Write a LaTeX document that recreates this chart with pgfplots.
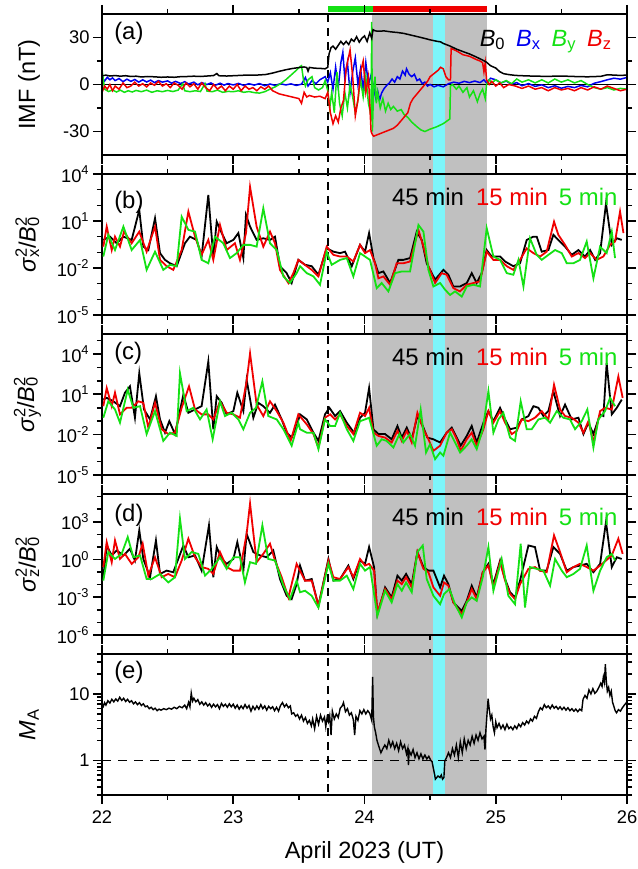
\documentclass[border=0pt]{standalone}
\usepackage{fontspec}
\setmainfont{Liberation Sans}
\usepackage{pgfplots}
\pgfplotsset{compat=1.18}
\definecolor{cgreen}{RGB}{20,225,20}
\definecolor{cred}{RGB}{240,0,0}
\definecolor{cblue}{RGB}{0,0,240}
\definecolor{shade}{RGB}{192,192,192}
\definecolor{cyanshade}{RGB}{125,245,250}
\newcommand\supsub[2]{\rlap{\textsuperscript{#1}}\textsubscript{#2}}
\newcommand\lab{\fontsize{12}{14}\selectfont}
\pgfplotsset{
  panel/.style={
    scale only axis, width=262.5bp, height=70.5bp,
    anchor=south west,
    xmin=22, xmax=26,
    xtick={22,23,24,25,26}, minor xtick={22.5,23.5,24.5,25.5},
    xticklabels={},
    tick align=outside,
    major tick length=4.5bp, minor tick length=2.5bp,
    every tick/.style={black, line width=0.8bp},
    axis line style={line width=1bp},
    tick label style={font=\fontsize{9.2}{10}\selectfont},
    /pgf/number format/assume math mode=true,
    every axis y label/.style={at={(axis description cs:-0.142,0.5)}, rotate=90, anchor=center, font=\fontsize{11.8}{13}\selectfont},
    every axis x label/.style={at={(axis description cs:0.5,-0.41)}, anchor=center, font=\fontsize{11.8}{13}\selectfont},
    yticklabel style={inner sep=1.5bp},
  },
}
\begin{document}
\begin{tikzpicture}
\path[use as bounding box] (0,0) rectangle (319bp,434.5bp);

% ---------------- (a) ----------------
\begin{axis}[panel, at={(51bp,357bp)}, ymin=-45, ymax=45, ytick={-30,0,30}, minor ytick={-15,15},
  ylabel={IMF (nT)}, every axis y label/.append style={at={(axis description cs:-0.139,0.5)}}, clip=false, axis on top]
\addplot[draw=none, fill=shade, forget plot] coordinates {(24.06,45) (24.93,45) (24.93,-453.5) (24.06,-453.5)} -- cycle;
\addplot[draw=none, fill=cyanshade, forget plot] coordinates {(24.52,45) (24.61,45) (24.61,-453.5) (24.52,-453.5)} -- cycle;
\addplot[black, line width=0.8bp, dash pattern=on 4bp off 3bp] coordinates {(23.72,45) (23.72,-453.5)};
\addplot[black, line width=0.6bp] coordinates {(22,0) (26,0)};
\addplot[cgreen, line width=3bp] coordinates {(23.72,47.9) (24.065,47.9)};
\addplot[cred, line width=3bp] coordinates {(24.065,47.9) (24.93,47.9)};
% Bx
\addplot[cblue, line width=0.75bp] coordinates {(22.00,4.5)(22.02,2.2)(22.04,4.6)(22.06,3.0)(22.08,4.2)(22.10,2.5)(22.13,3.8)(22.16,1.8)(22.19,3.4)(22.22,2.0)(22.25,3.2)(22.28,1.5)(22.31,3.0)(22.34,1.6)(22.37,2.8)(22.40,1.2)(22.43,2.5)(22.46,1.5)(22.50,2.3)(22.53,0.8)(22.56,2.0)(22.60,0.6)(22.63,1.8)(22.66,0.3)(22.70,1.5)(22.73,-0.2)(22.76,1.2)(22.80,0)(22.83,1.0)(22.86,-0.6)(22.90,0.8)(22.93,-0.4)(22.96,0.6)(23.00,-0.3)(23.04,0.7)(23.08,-0.6)(23.12,0.5)(23.16,-0.4)(23.20,0.6)(23.24,-0.8)(23.28,0.3)(23.32,-0.6)(23.36,0.5)(23.40,-0.3)(23.44,0.4)(23.48,-0.6)(23.52,0.2)(23.55,4.5)(23.57,-1.0)(23.60,2.5)(23.63,0.5)(23.66,3.0)(23.70,5.0)(23.72,1.5)(23.74,7.5)(23.76,-3.0)(23.78,11.0)(23.80,-2.0)(23.82,14.0)(23.835,20.5)(23.85,4.0)(23.87,14.0)(23.89,-5.0)(23.91,8.0)(23.93,17.0)(23.95,0)(23.97,10.0)(23.99,-3.0)(24.01,14.0)(24.03,0)(24.05,6.0)(24.07,-2.0)(24.085,-8.5)(24.10,-4.0)(24.115,-10.0)(24.13,-5.5)(24.15,-2.5)(24.17,-0.5)(24.19,1.0)(24.21,3.5)(24.23,1.5)(24.25,5.0)(24.27,3.5)(24.29,8.5)(24.31,6.0)(24.32,10.0)(24.34,6.5)(24.36,5.0)(24.38,6.5)(24.40,2.5)(24.42,3.5)(24.44,0.5)(24.46,1.5)(24.48,-1.0)(24.50,0)(24.53,-1.5)(24.56,-0.5)(24.60,-1.5)(24.64,0.5)(24.68,1.5)(24.72,0.8)(24.76,2.0)(24.80,1.2)(24.84,2.2)(24.88,1.2)(24.91,3.0)(24.93,1.0)(24.96,4.0)(25.00,3.0)(25.04,1.0)(25.08,2.2)(25.12,0.2)(25.16,1.2)(25.20,-0.8)(25.25,0.6)(25.30,-1.2)(25.35,-0.2)(25.40,-2.0)(25.45,-0.8)(25.50,-2.4)(25.55,-1.2)(25.60,-2.0)(25.65,-0.6)(25.70,-1.5)(25.75,0.8)(25.80,1.8)(25.85,3.0)(25.90,4.0)(25.95,3.4)(26.00,4.5)};
% By
\addplot[cgreen, line width=0.75bp] coordinates {(22.00,-2.0)(22.008,4.5)(22.02,-3.0)(22.05,-4.5)(22.08,-3.5)(22.11,-4.8)(22.14,-3.6)(22.17,-5.0)(22.20,-4.0)(22.23,-4.8)(22.26,-3.8)(22.30,-4.6)(22.34,-3.6)(22.38,-5.0)(22.42,-4.0)(22.46,-4.6)(22.50,-3.8)(22.54,-4.5)(22.58,-3.6)(22.615,0.5)(22.63,-4.0)(22.67,-4.6)(22.71,-4.0)(22.75,-4.5)(22.785,0.5)(22.80,-4.2)(22.84,-4.6)(22.88,-3.6)(22.92,-5.0)(22.96,-4.4)(23.00,-4.6)(23.04,-4.0)(23.08,-5.0)(23.12,-4.5)(23.16,-5.2)(23.20,-5.5)(23.24,-4.6)(23.28,-3.0)(23.32,-1.5)(23.36,0.5)(23.40,3.0)(23.44,6.0)(23.48,9.0)(23.51,11.5)(23.52,12.0)(23.535,3.0)(23.55,-1.0)(23.57,3.0)(23.60,5.0)(23.62,-2.0)(23.65,-3.5)(23.68,-2.0)(23.70,2.5)(23.72,-4.0)(23.735,-15.0)(23.75,-5.0)(23.77,-18.0)(23.79,8.0)(23.81,-12.0)(23.83,-20.0)(23.85,-5.0)(23.87,-15.0)(23.89,0)(23.91,-8.0)(23.93,-18.0)(23.95,-10.0)(23.97,3.0)(23.99,-8.0)(24.01,5.0)(24.03,-12.0)(24.05,-20.0)(24.055,40.0)(24.06,-30.0)(24.07,-2.0)(24.08,5.0)(24.09,-12.0)(24.10,-5.0)(24.12,-15.0)(24.14,-9.0)(24.16,-17.0)(24.18,-12.0)(24.20,-16.0)(24.22,-14.0)(24.25,-17.0)(24.28,-16.0)(24.30,-19.0)(24.33,-21.0)(24.36,-24.0)(24.40,-27.0)(24.43,-29.0)(24.46,-30.0)(24.50,-28.5)(24.55,-27.0)(24.60,-25.0)(24.65,-22.0)(24.655,-1.0)(24.67,0)(24.70,-3.0)(24.72,-1.0)(24.75,-5.0)(24.78,-2.0)(24.80,-8.0)(24.83,-4.0)(24.86,-11.0)(24.88,-6.0)(24.90,-3.0)(24.92,-9.0)(24.93,0)(24.95,3.0)(24.97,1.0)(25.00,3.0)(25.04,1.0)(25.08,2.5)(25.12,0.5)(25.16,3.5)(25.20,1.5)(25.25,3.0)(25.30,1.0)(25.35,3.0)(25.40,1.0)(25.45,3.5)(25.50,1.5)(25.55,3.0)(25.60,1.0)(25.65,2.5)(25.70,0)(25.75,-2.0)(25.80,-3.0)(25.85,-2.0)(25.90,-3.5)(25.95,-2.5)(26.00,-3.0)};
% Bz
\addplot[cred, line width=0.75bp] coordinates {(22.00,-5)(22.02,-1)(22.04,-3)(22.06,0)(22.08,-4)(22.10,-1)(22.13,-3)(22.16,1)(22.19,-2)(22.22,-1)(22.25,1.5)(22.28,-1)(22.31,0.5)(22.34,-1.5)(22.37,1)(22.40,-0.5)(22.43,2)(22.46,-1)(22.49,0.5)(22.52,-2)(22.55,1)(22.58,-0.5)(22.61,-3)(22.64,1)(22.67,-1.5)(22.70,0.5)(22.73,-3)(22.76,1)(22.79,-2)(22.82,-4)(22.85,0)(22.88,-3)(22.91,-1)(22.94,-4)(22.97,-1)(23.00,-3)(23.03,0)(23.06,-4)(23.09,-1)(23.12,-3)(23.15,-2)(23.18,-4)(23.21,-1.5)(23.24,-3)(23.27,-1)(23.30,-4)(23.35,-6)(23.40,-7)(23.45,-8)(23.50,-9)(23.52,-12)(23.54,-5)(23.56,-8)(23.58,-7)(23.62,-8)(23.66,-7.5)(23.70,-9)(23.72,-5)(23.74,-18)(23.76,-25)(23.78,-20)(23.80,-24)(23.82,-15)(23.84,-10)(23.86,10)(23.88,18)(23.89,22)(23.91,5)(23.93,-20)(23.95,-10)(23.97,8)(23.99,15)(24.01,-5)(24.03,5)(24.05,-30)(24.06,-32)(24.07,-33)(24.10,-32)(24.13,-31)(24.16,-30)(24.19,-29)(24.22,-28)(24.25,-26)(24.27,-24)(24.29,-22)(24.31,-20)(24.33,-18)(24.35,-12)(24.37,-9)(24.40,-6)(24.43,-3)(24.46,0)(24.48,2)(24.50,5)(24.53,7)(24.56,9)(24.58,11)(24.60,10)(24.62,5)(24.64,3)(24.655,3)(24.66,23)(24.70,21.5)(24.75,19)(24.80,18)(24.85,16)(24.88,15)(24.90,14)(24.91,8)(24.92,14)(24.93,3)(24.95,0)(24.97,2)(25.00,-1)(25.03,1)(25.06,-2)(25.10,0)(25.15,-1)(25.20,-2.5)(25.25,-1)(25.30,-3)(25.35,-2)(25.40,-4)(25.45,-2)(25.50,-3.5)(25.55,-2.5)(25.60,-4)(25.65,-2)(25.70,-3.5)(25.75,-1.5)(25.80,-3)(25.85,-1)(25.90,-2.5)(25.95,-4)(26.00,-3)};
% B0
\addplot[black, line width=0.75bp] coordinates {(22.00,5.5)(22.03,6.0)(22.06,5.4)(22.10,5.7)(22.14,5.3)(22.18,5.6)(22.22,5.1)(22.26,5.3)(22.30,4.8)(22.35,5.1)(22.40,4.9)(22.45,4.6)(22.50,4.8)(22.55,4.6)(22.60,5.0)(22.65,5.1)(22.70,5.3)(22.75,5.1)(22.80,5.4)(22.85,5.7)(22.875,7.0)(22.89,5.6)(22.95,5.4)(23.00,5.6)(23.05,5.8)(23.10,6.0)(23.15,5.9)(23.20,6.1)(23.25,6.4)(23.30,7.3)(23.35,8.4)(23.40,9.4)(23.45,10.2)(23.50,10.8)(23.54,11.2)(23.56,10.8)(23.57,8.5)(23.58,10.9)(23.62,10.4)(23.66,10.3)(23.70,10.0)(23.72,11.0)(23.73,19.5)(23.745,23.5)(23.76,24.5)(23.78,22.5)(23.80,25.0)(23.82,27.5)(23.84,25.5)(23.86,27.5)(23.88,25.5)(23.90,29.0)(23.92,27.5)(23.94,30.5)(23.96,27.0)(23.98,29.5)(24.00,31.0)(24.02,27.5)(24.04,33.0)(24.055,29.5)(24.065,35.0)(24.08,34.3)(24.10,34.0)(24.15,34.2)(24.20,33.6)(24.25,33.2)(24.30,32.6)(24.35,31.6)(24.40,30.6)(24.45,29.6)(24.50,28.5)(24.55,27.6)(24.58,27.2)(24.60,26.2)(24.65,24.6)(24.70,22.6)(24.75,21.0)(24.80,19.5)(24.85,17.6)(24.90,15.6)(24.93,14.2)(24.96,12.0)(25.00,10.5)(25.03,8.2)(25.06,6.9)(25.10,6.3)(25.15,5.8)(25.20,5.6)(25.30,5.3)(25.40,5.2)(25.50,5.4)(25.60,5.1)(25.70,4.9)(25.80,5.2)(25.85,6.2)(25.90,6.0)(25.95,5.8)(26.00,6.0)};
\node[anchor=west, font=\lab] at (rel axis cs:0.010,0.86) {(a)};
\node[anchor=east, font=\fontsize{11.8}{13}\selectfont] at (axis cs:25.94,27.4) {\textit{B}\textsubscript{0}\hspace{0.45em}\textcolor{cblue}{\textit{B}\textsubscript{x}}\hspace{0.45em}\textcolor{cgreen}{\textit{B}\textsubscript{y}}\hspace{0.45em}\textcolor{cred}{\textit{B}\textsubscript{z}}};
\end{axis}

% ---------------- (b) ----------------
\begin{axis}[panel, at={(51bp,277bp)}, ymode=log, ymin=1e-5, ymax=1e4,
  ytick={1e-5,1e-2,1e1,1e4}, yticklabels={10\textsuperscript{-5},10\textsuperscript{-2},10\textsuperscript{1},10\textsuperscript{4}},
  minor ytick={1e-4,1e-3,1e-1,1,1e2,1e3},
  ylabel={\textit{σ}\supsub{2}{x}/\textit{B}\supsub{2}{0}}]
\addplot[black, line width=0.9bp] coordinates {(22.010,0.62)(22.061,1.0)(22.112,0.38)(22.163,1.0)(22.226,0.62)(22.284,50)(22.315,0.23)(22.353,0.14)(22.404,15)(22.442,0.089)(22.480,0.033)(22.518,0.020)(22.569,0.013)(22.632,0.38)(22.670,1.0)(22.721,0.62)(22.759,0.054)(22.810,460)(22.848,0.054)(22.874,9.1)(22.912,1.7)(22.950,0.38)(23.001,0.62)(23.039,1.7)(23.077,0.043)(23.097,25)(23.128,4.4)(23.178,0.62)(23.229,0.79)(23.280,0.62)(23.318,1.0)(23.356,0.013)(23.407,0.0047)(23.445,0.0011)(23.496,0.033)(23.547,0.016)(23.598,0.013)(23.649,0.0037)(23.712,0.18)(23.763,0.11)(23.814,0.089)(23.852,0.11)(23.903,0.013)(23.966,0.30)(24.004,0.11)(24.035,1.7)(24.068,0.043)(24.106,0.0047)(24.144,0.006)(24.195,0.0011)(24.258,0.033)(24.296,0.033)(24.347,0.043)(24.398,2.1)(24.436,0.62)(24.474,0.020)(24.538,0.0018)(24.601,0.0076)(24.639,0.0037)(24.677,6.6e-4)(24.728,6.6e-4)(24.779,0.0011)(24.817,0.0047)(24.855,0.0011)(24.893,0.0047)(24.931,0.14)(24.969,0.054)(25.033,0.054)(25.071,0.026)(25.134,0.013)(25.185,0.020)(25.236,0.62)(25.287,1.0)(25.312,1.0)(25.350,0.11)(25.401,0.14)(25.439,1.3)(25.477,0.62)(25.528,0.23)(25.579,0.069)(25.630,0.14)(25.680,0.054)(25.719,0.14)(25.757,0.033)(25.795,0.089)(25.840,130)(25.884,0.30)(25.922,0.79)(25.960,0.62)};
\addplot[cred, line width=0.9bp] coordinates {(22.010,0.23)(22.036,4.4)(22.074,0.14)(22.099,1.0)(22.137,0.23)(22.168,2.1)(22.226,0.38)(22.284,2.1)(22.340,0.11)(22.404,4.4)(22.442,0.033)(22.493,0.013)(22.543,0.0076)(22.607,0.14)(22.658,40)(22.709,1.0)(22.759,0.069)(22.810,0.62)(22.848,0.033)(22.899,5.6)(22.950,0.14)(23.013,0.38)(23.051,0.033)(23.097,1.7)(23.128,1500)(23.178,4.4)(23.229,0.23)(23.280,2.1)(23.318,0.38)(23.356,0.0076)(23.420,0.0011)(23.458,0.0047)(23.496,0.033)(23.560,0.013)(23.598,0.0076)(23.649,0.0029)(23.712,0.23)(23.763,0.069)(23.814,0.054)(23.865,0.054)(23.915,0.026)(23.966,0.30)(24.004,0.089)(24.042,0.14)(24.080,0.020)(24.106,0.0022)(24.144,0.0029)(24.195,8.5e-4)(24.245,0.020)(24.296,0.020)(24.347,0.026)(24.411,2.7)(24.449,0.23)(24.487,0.013)(24.538,0.0011)(24.588,0.0047)(24.626,0.0037)(24.677,5.2e-4)(24.728,3.2e-4)(24.779,8.5e-4)(24.830,0.0011)(24.880,0.0014)(24.931,0.11)(24.982,0.033)(25.033,0.033)(25.084,0.013)(25.134,0.0076)(25.185,0.033)(25.236,0.18)(25.287,0.089)(25.338,0.054)(25.388,0.11)(25.444,9.1)(25.477,1.3)(25.528,0.30)(25.579,0.054)(25.630,0.089)(25.680,0.043)(25.719,0.089)(25.769,0.033)(25.820,0.054)(25.871,0.30)(25.909,0.49)(25.947,40)(25.973,1.7)};
\addplot[cgreen, line width=0.9bp] coordinates {(22.010,0.054)(22.048,1.3)(22.099,0.14)(22.163,4.4)(22.226,0.14)(22.290,0.62)(22.340,0.0076)(22.404,0.11)(22.467,0.0076)(22.518,0.016)(22.569,0.013)(22.607,19)(22.658,2.7)(22.709,2.1)(22.759,0.033)(22.810,0.020)(22.861,1.0)(22.924,0.38)(22.975,0.043)(23.026,0.089)(23.077,0.30)(23.128,0.30)(23.178,0.23)(23.229,65)(23.280,0.38)(23.331,0.14)(23.382,0.0029)(23.432,0.0011)(23.483,0.0047)(23.509,0.013)(23.560,0.0047)(23.611,0.0029)(23.661,8.5e-4)(23.712,0.11)(23.750,0.016)(23.814,0.033)(23.865,0.043)(23.915,0.0029)(23.966,0.089)(24.004,0.054)(24.042,0.033)(24.093,5.2e-4)(24.131,0.0011)(24.182,3.2e-4)(24.233,0.0047)(24.284,0.006)(24.347,0.006)(24.411,5.6)(24.449,2.1)(24.487,0.0076)(24.525,6.6e-4)(24.576,0.0011)(24.614,4.1e-4)(24.652,1.9e-4)(24.690,3.2e-4)(24.741,1.5e-4)(24.779,6.6e-4)(24.830,8.5e-4)(24.880,6.6e-4)(24.931,3.5)(24.982,0.054)(25.033,0.033)(25.084,0.0047)(25.134,0.0037)(25.173,0.033)(25.211,6.6e-4)(25.261,0.79)(25.312,0.069)(25.350,0.033)(25.401,0.069)(25.452,0.14)(25.503,0.089)(25.541,0.020)(25.592,0.020)(25.642,0.033)(25.693,0.49)(25.744,0.0022)(25.795,0.23)(25.845,0.089)(25.884,2.1)(25.909,0.043)};
\node[anchor=west, font=\lab] at (rel axis cs:0.010,0.80) {(b)};
\node[font=\lab] at (rel axis cs:0.621,0.838) {45 min};
\node[font=\lab, text=cred] at (rel axis cs:0.781,0.838) {15 min};
\node[font=\lab, text=cgreen] at (rel axis cs:0.926,0.838) {5 min};
\end{axis}

% ---------------- (c) ----------------
\begin{axis}[panel, at={(51bp,197bp)}, ymode=log, ymin=1e-5, ymax=3e5,
  ytick={1e-5,1e-2,1e1,1e4}, yticklabels={10\textsuperscript{-5},10\textsuperscript{-2},10\textsuperscript{1},10\textsuperscript{4}},
  minor ytick={1e-4,1e-3,1e-1,1,1e2,1e3,1e5},
  ylabel={\textit{σ}\supsub{2}{y}/\textit{B}\supsub{2}{0}}]
\addplot[black, line width=0.9bp] coordinates {(22.010,4.0)(22.036,5.4)(22.086,3.0)(22.137,1.3)(22.175,13)(22.213,39)(22.251,0.18)(22.284,370)(22.320,0.74)(22.366,0.135)(22.411,7.1)(22.442,0.135)(22.480,0.014)(22.513,0.10)(22.556,0.011)(22.620,9.5)(22.658,0.42)(22.709,0.74)(22.759,1.3)(22.810,2700)(22.848,0.025)(22.874,7.1)(22.912,2.3)(22.950,0.32)(23.001,0.56)(23.031,13)(23.077,0.56)(23.102,120)(23.153,0.18)(23.191,2.3)(23.229,1.3)(23.280,0.42)(23.318,1.7)(23.369,0.135)(23.407,0.014)(23.445,0.006)(23.483,0.044)(23.509,0.32)(23.560,0.135)(23.611,0.014)(23.649,0.0034)(23.699,0.32)(23.733,0.98)(23.776,0.24)(23.814,0.56)(23.865,0.077)(23.928,0.011)(23.966,0.18)(24.004,0.42)(24.035,29)(24.068,0.025)(24.106,0.011)(24.157,0.011)(24.207,0.0045)(24.251,0.044)(24.284,0.006)(24.322,0.033)(24.360,0.0045)(24.403,0.24)(24.444,0.044)(24.479,0.006)(24.525,0.0045)(24.576,0.0026)(24.626,0.014)(24.665,0.033)(24.703,0.006)(24.733,0.0015)(24.779,0.008)(24.817,0.044)(24.855,0.0026)(24.906,0.077)(24.944,0.56)(24.982,0.10)(25.033,0.98)(25.071,0.135)(25.109,0.025)(25.160,0.033)(25.198,0.135)(25.249,0.24)(25.287,1.3)(25.325,0.98)(25.363,0.24)(25.401,0.56)(25.439,17)(25.490,0.24)(25.528,1.7)(25.579,0.135)(25.630,0.18)(25.668,0.011)(25.706,0.077)(25.744,0.011)(25.795,0.32)(25.820,0.24)(25.845,2000)(25.884,0.32)(25.922,0.98)(25.960,4.0)};
\addplot[cred, line width=0.9bp] coordinates {(22.010,1.3)(22.036,29)(22.074,1.3)(22.099,13)(22.137,0.32)(22.188,0.98)(22.226,0.98)(22.277,3.0)(22.315,2.3)(22.353,0.033)(22.404,2.3)(22.455,0.025)(22.505,0.011)(22.556,0.014)(22.607,0.98)(22.663,39)(22.709,0.74)(22.759,0.32)(22.810,0.32)(22.848,0.135)(22.899,3.0)(22.950,0.42)(23.001,0.32)(23.051,0.18)(23.102,91)(23.128,11000)(23.178,1.7)(23.229,0.24)(23.280,3.0)(23.331,0.56)(23.382,0.077)(23.437,0.0034)(23.496,0.32)(23.560,0.058)(23.611,0.011)(23.649,0.0011)(23.699,0.18)(23.738,0.32)(23.776,0.135)(23.814,0.32)(23.865,0.044)(23.915,0.011)(23.966,0.42)(24.004,0.24)(24.035,0.98)(24.068,0.014)(24.106,0.008)(24.157,0.006)(24.207,0.0026)(24.251,0.019)(24.284,0.0034)(24.322,0.019)(24.360,0.0026)(24.403,0.42)(24.449,0.025)(24.487,0.0045)(24.525,6.3e-4)(24.576,0.0015)(24.626,0.014)(24.665,0.025)(24.703,0.0045)(24.733,6.3e-4)(24.779,0.0045)(24.817,0.014)(24.855,0.0015)(24.906,0.025)(24.944,0.56)(24.982,0.077)(25.033,0.56)(25.071,0.077)(25.122,0.011)(25.160,0.019)(25.198,0.135)(25.249,0.10)(25.299,0.18)(25.350,0.56)(25.401,0.135)(25.444,51)(25.490,0.74)(25.528,0.24)(25.579,0.18)(25.630,0.077)(25.668,0.014)(25.706,0.10)(25.744,0.0026)(25.795,0.56)(25.833,0.98)(25.884,0.74)(25.934,210)(25.967,5.4)};
\addplot[cgreen, line width=0.9bp] coordinates {(22.010,0.18)(22.048,3.0)(22.099,0.74)(22.137,0.077)(22.196,22)(22.239,0.98)(22.290,1.3)(22.340,0.011)(22.404,0.56)(22.467,0.0034)(22.518,0.014)(22.569,0.008)(22.594,370)(22.645,0.56)(22.696,0.98)(22.747,0.135)(22.797,0.74)(22.843,0.0045)(22.899,3.0)(22.937,0.24)(22.988,0.42)(23.039,0.135)(23.077,0.025)(23.128,0.42)(23.173,0.98)(23.222,91)(23.267,0.24)(23.331,0.135)(23.382,0.025)(23.445,0.0015)(23.496,0.077)(23.509,0.025)(23.560,0.014)(23.611,0.014)(23.649,8.3e-4)(23.699,0.135)(23.738,0.044)(23.776,0.044)(23.814,0.42)(23.865,0.025)(23.915,0.0034)(23.966,0.10)(24.004,0.135)(24.035,0.18)(24.093,0.0015)(24.131,0.0045)(24.169,0.0034)(24.220,0.0011)(24.266,0.011)(24.296,0.0026)(24.347,0.011)(24.385,0.0015)(24.428,0.74)(24.469,4.7e-4)(24.499,0.0019)(24.538,1.5e-4)(24.576,4.7e-4)(24.601,2.7e-4)(24.652,0.014)(24.690,0.0026)(24.728,4.7e-4)(24.779,0.0015)(24.817,0.0045)(24.855,8.3e-4)(24.901,0.025)(24.944,17)(24.982,0.014)(25.020,0.135)(25.058,0.42)(25.109,0.006)(25.147,0.0034)(25.190,3.0)(25.236,0.025)(25.274,0.025)(25.325,0.135)(25.376,0.18)(25.414,0.077)(25.465,0.56)(25.515,0.18)(25.566,0.135)(25.604,0.025)(25.655,0.10)(25.698,0.74)(25.744,0.0011)(25.782,0.135)(25.833,0.56)(25.871,5.4)(25.909,1.3)};
\node[anchor=west, font=\lab] at (rel axis cs:0.010,0.866) {(c)};
\node[font=\lab] at (rel axis cs:0.621,0.838) {45 min};
\node[font=\lab, text=cred] at (rel axis cs:0.781,0.838) {15 min};
\node[font=\lab, text=cgreen] at (rel axis cs:0.926,0.838) {5 min};
\end{axis}

% ---------------- (d) ----------------
\begin{axis}[panel, at={(51bp,117bp)}, ymode=log, ymin=1e-6, ymax=1.6e5,
  ytick={1e-6,1e-3,1,1e3}, yticklabels={10\textsuperscript{-6},10\textsuperscript{-3},10\textsuperscript{0},10\textsuperscript{3}},
  minor ytick={1e-5,1e-4,1e-2,1e-1,1e1,1e2,1e4,1e5},
  ylabel={\textit{σ}\supsub{2}{z}/\textit{B}\supsub{2}{0}}]
\addplot[black, line width=0.9bp] coordinates {(22.010,0.039)(22.036,13)(22.074,2.1)(22.112,5.2)(22.163,2.1)(22.213,7.1)(22.251,0.83)(22.284,210)(22.315,1.1)(22.366,0.039)(22.411,33)(22.442,0.071)(22.493,0.13)(22.543,0.097)(22.620,13)(22.658,1.5)(22.709,2.1)(22.759,0.13)(22.815,520)(22.848,0.039)(22.874,9.7)(22.912,1.1)(22.950,0.45)(23.001,1.1)(23.031,24)(23.077,0.13)(23.102,110)(23.153,3.9)(23.204,2.1)(23.255,1.5)(23.305,5.2)(23.356,0.028)(23.407,0.0013)(23.445,7.1e-4)(23.483,0.011)(23.509,0.33)(23.547,0.021)(23.598,0.028)(23.649,2.1e-4)(23.725,1.1)(23.763,0.021)(23.814,0.028)(23.877,0.33)(23.915,0.028)(23.966,0.83)(24.004,0.45)(24.035,9.7)(24.073,0.25)(24.098,4.5e-5)(24.157,0.0061)(24.207,9.7e-4)(24.251,0.052)(24.284,0.021)(24.317,0.071)(24.360,0.011)(24.403,3.9)(24.449,0.25)(24.487,0.13)(24.525,0.13)(24.576,0.0061)(24.606,0.052)(24.639,0.011)(24.677,3.9e-4)(24.741,8.3e-5)(24.779,5.2e-4)(24.817,0.0083)(24.855,9.7e-4)(24.901,0.097)(24.944,0.45)(24.982,0.011)(25.033,0.83)(25.071,0.028)(25.109,0.0025)(25.147,9.7e-4)(25.185,0.021)(25.249,13)(25.299,9.7)(25.338,0.13)(25.388,0.13)(25.439,9.7)(25.490,2.8)(25.541,0.13)(25.592,0.25)(25.642,0.33)(25.693,0.45)(25.744,0.097)(25.795,0.45)(25.840,970)(25.884,0.25)(25.922,1.5)(25.960,1.1)};
\addplot[cred, line width=0.9bp] coordinates {(22.010,0.25)(22.036,24)(22.074,0.61)(22.099,33)(22.137,1.1)(22.175,2.8)(22.226,0.45)(22.277,1.5)(22.310,18)(22.353,0.052)(22.404,1.5)(22.455,0.039)(22.505,0.071)(22.556,0.039)(22.607,0.83)(22.658,45)(22.709,1.5)(22.759,0.25)(22.810,0.18)(22.848,0.071)(22.899,3.9)(22.950,0.25)(23.001,0.13)(23.051,0.13)(23.102,110)(23.128,28000)(23.178,0.61)(23.229,2.8)(23.280,18)(23.318,0.83)(23.369,0.039)(23.420,9.7e-4)(23.483,0.45)(23.547,0.021)(23.598,0.021)(23.649,2.1e-4)(23.725,0.83)(23.763,0.039)(23.814,0.028)(23.877,0.25)(23.915,0.039)(23.966,1.1)(24.004,0.33)(24.035,0.45)(24.073,0.13)(24.098,6.1e-5)(24.157,0.0045)(24.207,7.1e-4)(24.251,0.021)(24.284,0.011)(24.317,0.039)(24.360,0.0061)(24.403,3.9)(24.449,0.18)(24.487,0.097)(24.525,0.0061)(24.576,0.0013)(24.606,0.015)(24.639,0.0083)(24.677,3.9e-4)(24.741,4.5e-5)(24.779,3.9e-4)(24.817,0.0045)(24.855,7.1e-4)(24.901,0.097)(24.944,0.33)(24.982,0.0061)(25.033,0.61)(25.071,0.021)(25.109,0.0019)(25.147,7.1e-4)(25.185,0.011)(25.249,0.18)(25.299,0.25)(25.338,0.13)(25.388,0.097)(25.444,83)(25.490,3.9)(25.541,0.097)(25.592,0.25)(25.642,0.45)(25.693,0.25)(25.744,0.13)(25.795,0.33)(25.840,0.83)(25.884,2.1)(25.934,45)(25.967,2.8)};
\addplot[cgreen, line width=0.9bp] coordinates {(22.010,0.021)(22.048,3.9)(22.099,1.1)(22.150,2.8)(22.196,61)(22.239,1.5)(22.290,2.1)(22.340,0.028)(22.378,0.028)(22.442,0.071)(22.505,0.015)(22.556,0.039)(22.594,1800)(22.632,1.1)(22.683,3.9)(22.734,2.8)(22.785,0.052)(22.836,0.18)(22.899,1.5)(22.950,0.18)(23.001,1.5)(23.051,1.5)(23.089,0.015)(23.128,0.61)(23.173,0.45)(23.222,520)(23.267,1.1)(23.318,0.83)(23.382,0.0083)(23.432,7.1e-4)(23.483,0.021)(23.509,0.0025)(23.547,0.0033)(23.598,0.0013)(23.649,1.5e-4)(23.725,0.45)(23.763,0.021)(23.814,0.021)(23.865,0.052)(23.915,0.0045)(23.966,0.45)(24.004,0.13)(24.042,0.25)(24.098,3.3e-5)(24.157,0.0033)(24.207,3.9e-4)(24.251,0.011)(24.284,0.0033)(24.317,0.015)(24.360,0.0025)(24.403,3.9)(24.444,13)(24.474,0.028)(24.525,0.0013)(24.576,2.8e-4)(24.606,0.0018)(24.647,0.0045)(24.690,2.8e-4)(24.741,2.5e-5)(24.779,3.9e-4)(24.817,9.7e-4)(24.855,5.2e-4)(24.901,0.039)(24.944,9.7)(24.982,0.0033)(25.045,1.1)(25.096,0.0013)(25.147,2.8e-4)(25.190,18)(25.223,1.5e-4)(25.261,0.25)(25.312,0.18)(25.363,0.13)(25.414,0.0083)(25.452,1.1)(25.503,0.13)(25.541,0.039)(25.592,0.071)(25.642,0.18)(25.693,13)(25.744,0.0033)(25.795,0.13)(25.845,1.5)(25.884,2.8)(25.909,0.83)};
\node[anchor=west, font=\lab] at (rel axis cs:0.010,0.85) {(d)};
\node[font=\lab] at (rel axis cs:0.621,0.836) {45 min};
\node[font=\lab, text=cred] at (rel axis cs:0.781,0.836) {15 min};
\node[font=\lab, text=cgreen] at (rel axis cs:0.926,0.836) {5 min};
\end{axis}

% ---------------- (e) ----------------
\begin{axis}[panel, at={(51bp,37bp)}, ymode=log, ymin=0.3, ymax=40,
  ytick={1,10}, yticklabels={1,10},
  minor ytick={0.3,0.4,0.5,0.6,0.7,0.8,0.9,2,3,4,5,6,7,8,9,20,30,40},
  xticklabels={22,23,24,25,26},
  xlabel={April 2023 (UT)},
  ylabel={\textit{M}\textsubscript{A}}, every axis y label/.append style={at={(axis description cs:-0.139,0.5)}}]
\addplot[black, line width=0.8bp, dash pattern=on 4.5bp off 3.5bp] coordinates {(22,1) (26,1)};
\addplot[black, line width=0.7bp] coordinates {(22.000,7.2)(22.010,6.5)(22.020,7.4)(22.030,6.8)(22.045,7.9)(22.060,7.3)(22.075,8.3)(22.090,7.6)(22.105,8.4)(22.120,7.8)(22.135,8.9)(22.150,8.0)(22.165,8.6)(22.180,7.7)(22.195,8.3)(22.210,7.5)(22.225,7.9)(22.240,7.1)(22.255,7.6)(22.270,6.9)(22.285,7.4)(22.300,6.7)(22.315,7.1)(22.330,6.4)(22.345,6.6)(22.360,6.0)(22.375,6.3)(22.390,5.8)(22.405,6.1)(22.420,5.6)(22.435,5.9)(22.450,5.7)(22.470,6.0)(22.490,5.8)(22.510,6.1)(22.530,5.9)(22.550,6.3)(22.570,6.0)(22.590,6.5)(22.610,6.2)(22.630,6.8)(22.645,6.0)(22.660,7.5)(22.670,6.4)(22.680,10.3)(22.690,7.8)(22.700,8.6)(22.715,7.6)(22.730,8.2)(22.745,7.0)(22.760,7.6)(22.775,6.8)(22.790,7.4)(22.805,6.6)(22.820,7.1)(22.835,6.3)(22.850,7.0)(22.865,6.4)(22.880,6.9)(22.895,6.0)(22.910,7.2)(22.925,6.5)(22.940,7.0)(22.955,6.3)(22.970,7.1)(22.985,6.4)(23.000,7.0)(23.015,6.1)(23.030,6.8)(23.045,5.9)(23.060,6.6)(23.075,6.0)(23.090,6.9)(23.105,6.1)(23.120,6.7)(23.135,5.5)(23.150,6.5)(23.165,5.8)(23.180,6.6)(23.195,5.9)(23.210,6.9)(23.225,6.0)(23.240,6.6)(23.255,5.7)(23.270,6.5)(23.285,6.0)(23.300,6.4)(23.315,5.6)(23.330,6.3)(23.345,5.5)(23.360,6.7)(23.375,7.4)(23.390,6.4)(23.405,7.0)(23.420,6.2)(23.435,6.6)(23.445,5.0)(23.460,5.2)(23.475,4.6)(23.490,4.9)(23.505,4.2)(23.520,4.8)(23.535,3.9)(23.550,4.4)(23.565,3.6)(23.580,4.0)(23.595,3.3)(23.605,4.2)(23.620,3.0)(23.635,4.6)(23.650,3.5)(23.665,4.8)(23.680,3.9)(23.695,4.5)(23.705,3.2)(23.715,4.4)(23.725,3.8)(23.735,4.7)(23.745,2.4)(23.755,5.5)(23.770,4.2)(23.785,5.0)(23.800,4.4)(23.815,6.1)(23.830,6.6)(23.840,7.4)(23.855,5.4)(23.870,6.0)(23.885,4.8)(23.900,5.2)(23.915,4.1)(23.925,2.4)(23.935,4.6)(23.950,4.0)(23.965,5.6)(23.980,5.0)(23.995,5.8)(24.010,5.0)(24.025,5.6)(24.040,5.1)(24.055,4.0)(24.062,18)(24.068,4.5)(24.075,3.2)(24.085,2.6)(24.095,2.0)(24.110,1.6)(24.125,1.3)(24.140,1.5)(24.155,1.7)(24.170,1.5)(24.185,2.0)(24.200,1.6)(24.215,1.9)(24.230,1.5)(24.245,1.8)(24.260,1.4)(24.275,1.9)(24.290,1.5)(24.305,1.7)(24.320,1.25)(24.330,1.5)(24.335,0.85)(24.340,1.4)(24.355,1.2)(24.370,1.45)(24.385,1.1)(24.400,1.3)(24.415,1.05)(24.430,1.25)(24.445,1.05)(24.460,1.2)(24.475,1.05)(24.490,1.15)(24.505,1.0)(24.515,0.95)(24.525,0.75)(24.535,0.6)(24.540,0.52)(24.560,0.58)(24.575,0.55)(24.585,0.6)(24.595,0.52)(24.605,0.55)(24.612,0.98)(24.625,1.1)(24.640,1.3)(24.655,1.1)(24.670,1.5)(24.685,1.2)(24.700,1.7)(24.715,1.1)(24.730,1.9)(24.745,1.3)(24.760,2.1)(24.775,1.5)(24.790,2.0)(24.805,1.7)(24.820,2.3)(24.835,1.8)(24.850,2.4)(24.865,2.0)(24.880,2.6)(24.895,2.1)(24.910,2.3)(24.918,1.45)(24.925,2.9)(24.935,5.5)(24.942,8.5)(24.950,6.0)(24.960,4.2)(24.970,4.8)(24.980,3.2)(24.990,2.6)(25.000,3.8)(25.010,3.1)(25.025,3.6)(25.040,3.0)(25.055,3.4)(25.070,2.9)(25.085,3.5)(25.100,3.0)(25.115,3.2)(25.130,2.9)(25.145,3.3)(25.160,3.0)(25.175,3.5)(25.190,3.2)(25.205,3.7)(25.220,3.4)(25.235,3.9)(25.250,3.6)(25.265,4.2)(25.280,3.9)(25.295,4.6)(25.310,4.3)(25.325,5.4)(25.340,6.2)(25.355,5.8)(25.370,6.9)(25.385,6.2)(25.400,6.6)(25.415,6.0)(25.430,6.8)(25.445,6.1)(25.460,6.5)(25.475,5.9)(25.490,6.4)(25.505,5.8)(25.520,6.3)(25.535,5.7)(25.550,6.2)(25.565,5.6)(25.580,6.0)(25.595,5.5)(25.610,5.9)(25.625,5.4)(25.640,5.9)(25.655,5.6)(25.665,8.3)(25.680,9.5)(25.695,8.6)(25.710,11.5)(25.725,10.0)(25.740,12.0)(25.755,10.2)(25.770,11.0)(25.785,12.5)(25.800,14.5)(25.810,13.0)(25.820,18)(25.828,15)(25.835,28)(25.842,16)(25.850,11)(25.860,12.5)(25.870,9.5)(25.880,11)(25.890,7.5)(25.900,6.5)(25.910,5.6)(25.920,5.2)(25.935,5.8)(25.950,5.5)(25.965,6.2)(25.980,6.8)(26.000,7.6)};
\node[anchor=west, font=\lab] at (rel axis cs:0.010,0.87) {(e)};
\end{axis}
\end{tikzpicture}
\end{document}
